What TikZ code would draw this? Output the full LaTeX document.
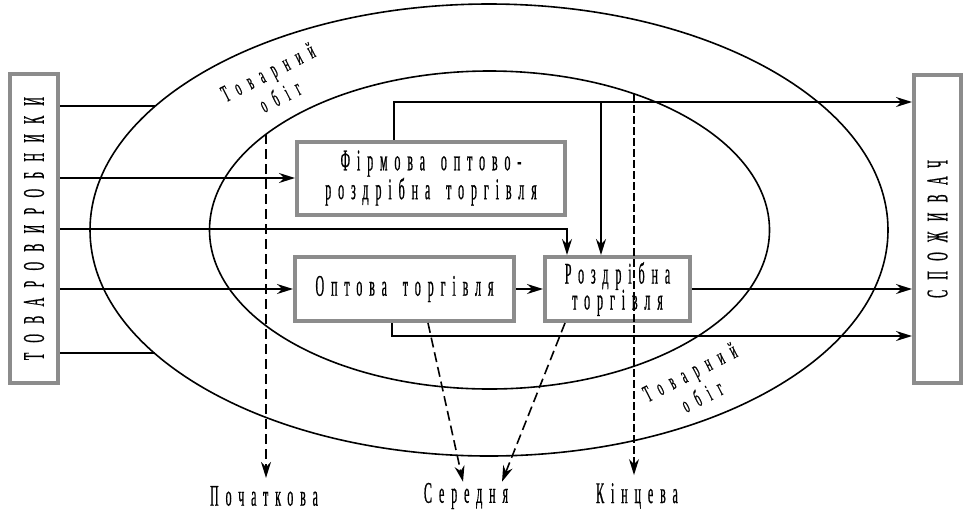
\documentclass[tikz,border=0pt]{standalone}
\usepackage{fontspec}
\setmainfont{Liberation Serif}
\newfontfamily\narrowfont[FakeStretch=0.4,FakeBold=0.6,LetterSpace=23,WordSpace=1.6]{Liberation Serif}
\newfontfamily\capsfont[FakeStretch=0.4,FakeBold=0.6,LetterSpace=34]{Liberation Serif}
\newfontfamily\turnfont[FakeStretch=0.42,FakeBold=0.5,LetterSpace=36,WordSpace=1.5]{Liberation Serif}
\usepackage{xcolor}
\definecolor{boxgray}{RGB}{140,140,140}
\usetikzlibrary{arrows.meta}

\begin{document}
\begin{tikzpicture}[x=1pt,y=-1pt,line width=1.6pt,>={Stealth[length=16pt,width=10pt]}]
\tikzstyle{outbox}=[draw=boxgray,line width=4pt,fill=white,shape=rectangle,inner sep=0pt]
\tikzstyle{tradebox}=[outbox,align=center,font=\narrowfont\fontsize{30}{27}\selectfont]
\tikzstyle{sidetext}=[rotate=90,font=\capsfont\fontsize{30}{27}\selectfont]
\tikzstyle{stagel}=[font=\narrowfont\fontsize{30}{27}\selectfont]
\tikzstyle{turnl}=[rotate=27,align=center,font=\turnfont\fontsize{24}{27}\selectfont]
\tikzstyle{dline}=[dashed,dash pattern=on 10pt off 5pt,line width=1.6pt]
%
\useasboundingbox (0,0) rectangle (971,515);
%
\draw (489,230) ellipse [x radius=399pt, y radius=226pt];
\draw (489.5,230) ellipse [x radius=280pt, y radius=159pt];
%
\node[outbox,minimum width=48pt,minimum height=309pt](prod) at (34,228.5){};
\node[sidetext] at (prod){ТОВАРОВИРОБНИКИ};
\node[outbox,minimum width=47pt,minimum height=308pt](cons) at (937.5,229){};
\node[sidetext] at (cons){СПОЖИВАЧ};
%
\node[tradebox,minimum width=268pt,minimum height=73pt](firm) at (431,178){Фірмова оптово-\\роздрібна торгівля};
\node[tradebox,minimum width=219pt,minimum height=64pt](whole) at (404.5,289){Оптова торгівля};
\node[tradebox,minimum width=145pt,minimum height=64pt](retail) at (617.5,289){Роздрібна\\[-1pt]торгівля};
%
\node[turnl](t1) at (274,84){Товарний\\обіг};
\node[turnl](t2) at (696,384){Товарний\\обіг};
%
\node[stagel](start) at (264,496){Початкова};
\node[stagel](mid) at (466,496){Середня};
\node[stagel](fin) at (637,496){Кінцева};
%
\coordinate (e1) at (155,106);
\coordinate (e2) at (155,353);
\coordinate (k1) at (567,229);
\coordinate (k2) at (394,102);
\coordinate (k3) at (601,102);
\coordinate (k4) at (392,336);
\coordinate (d1) at (266,134);
\coordinate (d2) at (634,94);
%
\draw (prod.east |- e1) -- (e1);
\draw[->] (prod.east |- firm.west) -- (firm.west);
\draw[->] (prod.east |- k1) -- (k1) -- (k1 |- retail.north);
\draw[->] (prod.east |- whole.west) -- (whole.west);
\draw (prod.east |- e2) -- (e2);
%
\draw[->] (k2 |- firm.north) -- (k2) -- (k2 -| cons.west);
\draw[->] (k3) -- (k3 |- retail.north);
\draw[->] (whole) -- (retail);
\draw[->] (retail.east) -- (retail.east -| cons.west);
\draw[->] (k4 |- whole.south) -- (k4) -- (k4 -| cons.west);
%
\draw[dline,->] (d1) -- ([yshift=4pt]d1 |- start.north);
\draw[dline,->] ([xshift=23.5pt]whole.south) -- ([xshift=-3pt,yshift=-3pt]mid.north);
\draw[dline,->] ([xshift=-52.5pt]retail.south) -- ([xshift=36pt,yshift=-3pt]mid.north);
\draw[dline,line width=1.2pt,dash pattern=on 8pt off 3pt,->] (d2) -- ([yshift=4pt]d2 |- fin.north);
\end{tikzpicture}
\end{document}
